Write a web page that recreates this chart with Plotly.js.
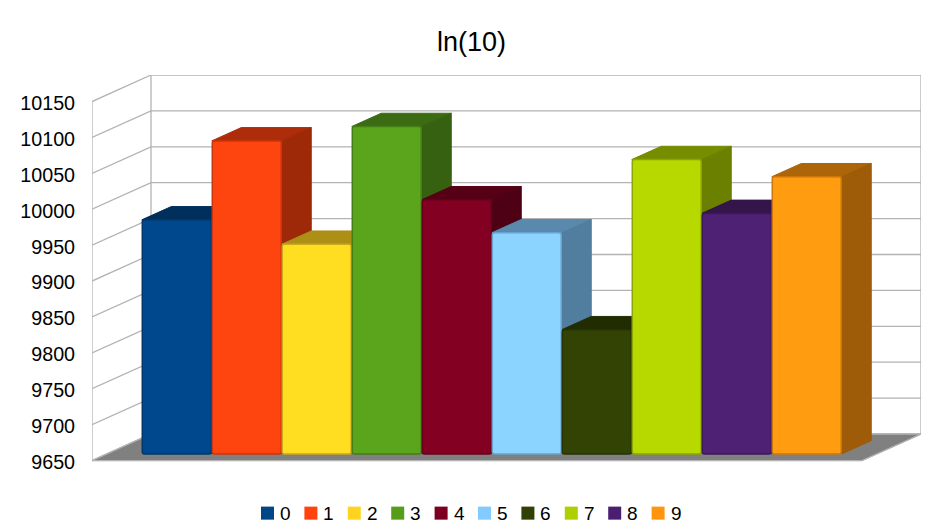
<!DOCTYPE html>
<html>
<head>
<meta charset="utf-8">
<script src="https://cdn.plot.ly/plotly-3.0.1.min.js"></script>
<style>html,body{margin:0;padding:0;background:#fff}#chart{width:943px;height:530px}</style>
</head>
<body>
<div id="chart"></div>
<script>
const titleText = 'ln(10)';
const categories = ['0','1','2','3','4','5','6','7','8','9'];
const values = [9976,10086,9942,10106,10004,9958,9823,10060,9985,10036];
const colors = ['#004586','#ff420e','#ffd320','#579d1c','#7e0021','#83caff','#314004','#aecf00','#4b1f6f','#ff950e'];
const tickVals = [9650,9700,9750,9800,9850,9900,9950,10000,10050,10100,10150];

const yMin = 9650, yMax = 10150;
const xMin = -1, xMax = 10;
const depthX = 0.843, depthY = 37;      // wall depth in data units
const zFront = 0.25, zBack = 0.75;      // where the bars sit in that depth
const gridColor = '#b3b3b3';
const labelNudge = 2;                   // tick text sits a hair below its gridline

function shade(hex, f){
  const n = parseInt(hex.slice(1),16);
  const c = [n>>16&255, n>>8&255, n&255].map(v=>Math.min(255,Math.round(v*f)));
  return 'rgb('+c.join(',')+')';
}
const px = (x,z)=>x+z*depthX, py=(y,z)=>y+z*depthY;

const traces = [];
function poly(xs,ys,fill){
  traces.push({type:'scatter',mode:'lines',x:xs,y:ys,fill:'toself',fillcolor:fill,
    line:{color:fill,width:1},hoverinfo:'skip',showlegend:false});
}
// floor
poly([xMin,xMax,px(xMax,1),px(xMin,1),xMin],[yMin,yMin,py(yMin,1),py(yMin,1),yMin],'#808080');
// walls and gridlines
const gx=[],gy=[];
tickVals.forEach(v=>{ gx.push(xMin,px(xMin,1),px(xMax,1),null); gy.push(v,py(v,1),py(v,1),null); });
gx.push(xMin,xMin,null,px(xMin,1),px(xMin,1),null,px(xMax,1),px(xMax,1),null,xMin,xMax,px(xMax,1));
gy.push(yMin,yMax,null,py(yMin,1),py(yMax,1),null,py(yMin,1),py(yMax,1),null,yMin,yMin,py(yMin,1));
traces.push({type:'scatter',mode:'lines',x:gx,y:gy,line:{color:gridColor,width:1.3},hoverinfo:'skip',showlegend:false});

// top and side faces, left to right
categories.forEach((c,i)=>{
  const l=i-0.5, r=i+0.5, v=values[i], col=colors[i];
  poly([px(l,zFront),px(r,zFront),px(r,zBack),px(l,zBack),px(l,zFront)],
       [py(v,zFront),py(v,zFront),py(v,zBack),py(v,zBack),py(v,zFront)], shade(col,0.68));
  poly([px(r,zFront),px(r,zBack),px(r,zBack),px(r,zFront),px(r,zFront)],
       [py(yMin,zFront),py(yMin,zBack),py(v,zBack),py(v,zFront),py(yMin,zFront)], shade(col,0.62));
});
// front faces, on an overlaid pair of axes so they cover the faces above
categories.forEach((c,i)=>{
  traces.push({type:'bar',name:c,x:[px(i,zFront)],y:[values[i]-yMin],base:[py(yMin,zFront)],width:[0.985],
    xaxis:'x2',yaxis:'y2',marker:{color:shade(colors[i],1.05),cornerradius:3,line:{color:shade(colors[i],0.8),width:1.5}},hoverinfo:'name+y'});
});

// legend row
const legendStart = 261, legendStep = 43.4, legendY = 512, W = 943, H = 530;
const legendShapes = categories.map((c,i)=>({
  type:'rect',xref:'paper',yref:'paper',layer:'above',
  x0:(legendStart+legendStep*i-92)/829, x1:(legendStart+legendStep*i+13-92)/829,
  y0:(461-legendY-6.5)/386, y1:(461-legendY+6.5)/386,
  fillcolor:colors[i],line:{width:0}
}));
const legendLabels = categories.map((c,i)=>({
  text:c,xref:'paper',yref:'paper',showarrow:false,xanchor:'left',yanchor:'middle',
  x:(legendStart+legendStep*i+17-92)/829, y:(461-legendY-0.5)/386,
  font:{size:19,color:'#000'}
}));

const xRange=[xMin,px(xMax,1)], yRange=[yMin-labelNudge,py(yMax,1)];
const layout = {
  width:W,height:H,paper_bgcolor:'#fff',plot_bgcolor:'#fff',
  margin:{l:92,r:22,t:75,b:69-labelNudge*0.718},
  font:{family:'"Liberation Sans",Arial,sans-serif',color:'#000'},
  title:{text:titleText,font:{size:27,color:'#000'},x:0.5,xref:'container',xanchor:'center',y:1-42/530,yref:'container',yanchor:'middle'},
  showlegend:false,
  bargap:0,
  shapes:legendShapes,
  annotations:legendLabels,
  xaxis:{range:xRange,showgrid:false,zeroline:false,showline:false,showticklabels:false,ticks:'',fixedrange:true},
  yaxis:{range:yRange,tickmode:'array',tickvals:tickVals.map(v=>v-labelNudge),ticktext:tickVals.map(String),showgrid:false,zeroline:false,showline:false,
    ticks:'outside',ticklen:12,tickcolor:'rgba(0,0,0,0)',tickfont:{size:19.7},fixedrange:true},
  xaxis2:{range:xRange,overlaying:'x',visible:false,fixedrange:true},
  yaxis2:{range:yRange,overlaying:'y',visible:false,fixedrange:true}
};
Plotly.newPlot('chart',traces,layout,{displayModeBar:false,staticPlot:true});
</script>
</body>
</html>
